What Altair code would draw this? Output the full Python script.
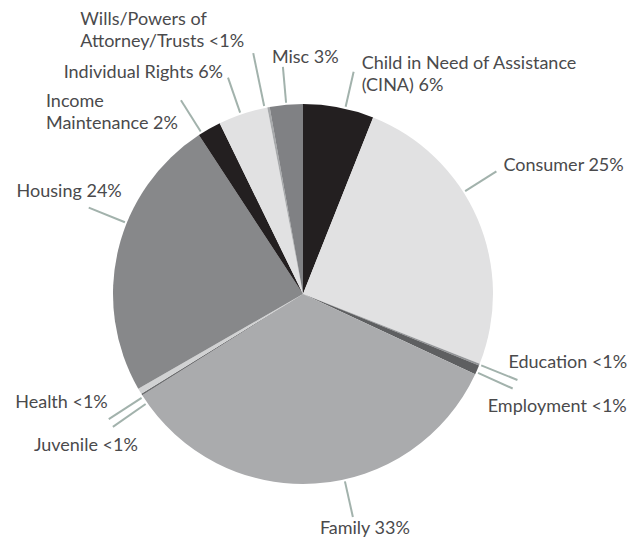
import altair as alt
import pandas as pd

# ---- data ----
categories = [
    "Child in Need of Assistance (CINA)", "Consumer", "Education", "Employment",
    "Family", "Juvenile", "Health", "Housing", "Income Maintenance",
    "Individual Rights", "Wills/Powers of Attorney/Trusts", "Misc",
]
values = [6.0, 24.9, 0.15, 0.8, 34.0, 0.15, 0.5, 24.0, 2.0, 4.2, 0.2, 2.8]
labels = [
    "Child in Need of Assistance\n(CINA) 6%", "Consumer 25%", "Education <1%",
    "Employment <1%", "Family 33%", "Juvenile <1%", "Health <1%", "Housing 24%",
    "Income\nMaintenance 2%", "Individual Rights 6%",
    "Wills/Powers of\nAttorney/Trusts <1%", "Misc 3%",
]
colors = ["#231f20", "#e1e1e2", "#939598", "#5e5f61", "#aaabad", "#6d6e70",
          "#d1d2d3", "#87888a", "#231f20", "#e1e1e2", "#a7a9ab", "#808184"]

# ---- label layout (leader-line nudges / lengths, label offsets) ----
leader_nudge = [2, -9, 0, 0.7, -9, -3, -2, 8.5, -2.6, -0.7, -1.2, 0]
leader_r = [228, 229, 231, 230, 228.5, 232, 231, 231, 229, 229, 246, 228]
label_dx = [8, 7, -9, -25, -33, 25, -1, 33, -135, -5, -173, -11]
label_dy = [-8, -5, -17, 18.5, 12, 19, -16, -16, 2, -5, -33, -9]
label_align = ["left", "left", "left", "left", "left", "right", "right", "right",
               "left", "right", "left", "left"]

W, H = 623, 531
CX, CY = 295, 286
R = 190
R0 = 192

df = pd.DataFrame({
    "category": categories, "value": values, "label": labels,
    "idx": list(range(len(categories))), "nudge": leader_nudge, "r1": leader_r,
    "dx": label_dx, "dy": label_dy, "align": label_align,
})

base = alt.Chart(df)

pie = base.mark_arc(radius=R, stroke=None).encode(
    theta=alt.Theta("value:Q", stack=True),
    order=alt.Order("idx:Q"),
    color=alt.Color("category:N", scale=alt.Scale(domain=categories, range=colors), legend=None),
    x=alt.value(CX), y=alt.value(CY),
)

geo = base.transform_window(
    cum="sum(value)", sort=[alt.SortField("idx")], frame=[None, 0]
).transform_joinaggregate(
    total="sum(value)"
).transform_calculate(
    ang="(datum.cum - datum.value/2)/datum.total*2*PI + datum.nudge*PI/180",
).transform_calculate(
    x0=f"{R0}*sin(datum.ang)", y0=f"{R0}*cos(datum.ang)",
    x1="datum.r1*sin(datum.ang)", y1="datum.r1*cos(datum.ang)",
).transform_calculate(
    lx="datum.x1 + datum.dx", ly="datum.y1 - datum.dy",
)

xs = alt.Scale(domain=[-CX, W - CX], nice=False, zero=False)
ys = alt.Scale(domain=[-(H - CY), CY], nice=False, zero=False)

rules = geo.mark_rule(color="#a2b2ac", strokeWidth=2).encode(
    x=alt.X("x0:Q", scale=xs, axis=None),
    y=alt.Y("y0:Q", scale=ys, axis=None),
    x2="x1:Q", y2="y1:Q",
)

def text_layer(al):
    return geo.transform_filter(alt.datum.align == al).mark_text(
        align=al, baseline="middle", font="Lato", fontSize=18, color="#4a4a4c",
        lineBreak="\n", lineHeight=22,
    ).encode(
        x=alt.X("lx:Q", scale=xs, axis=None),
        y=alt.Y("ly:Q", scale=ys, axis=None),
        text="label:N",
    )

chart = alt.layer(pie, rules, text_layer("left"), text_layer("right")).properties(
    width=W, height=H, padding=0, autosize=alt.AutoSizeParams(type="none"),
).configure_view(stroke=None)

chart.save("out.html", embed_options={"renderer": "svg", "actions": False})
